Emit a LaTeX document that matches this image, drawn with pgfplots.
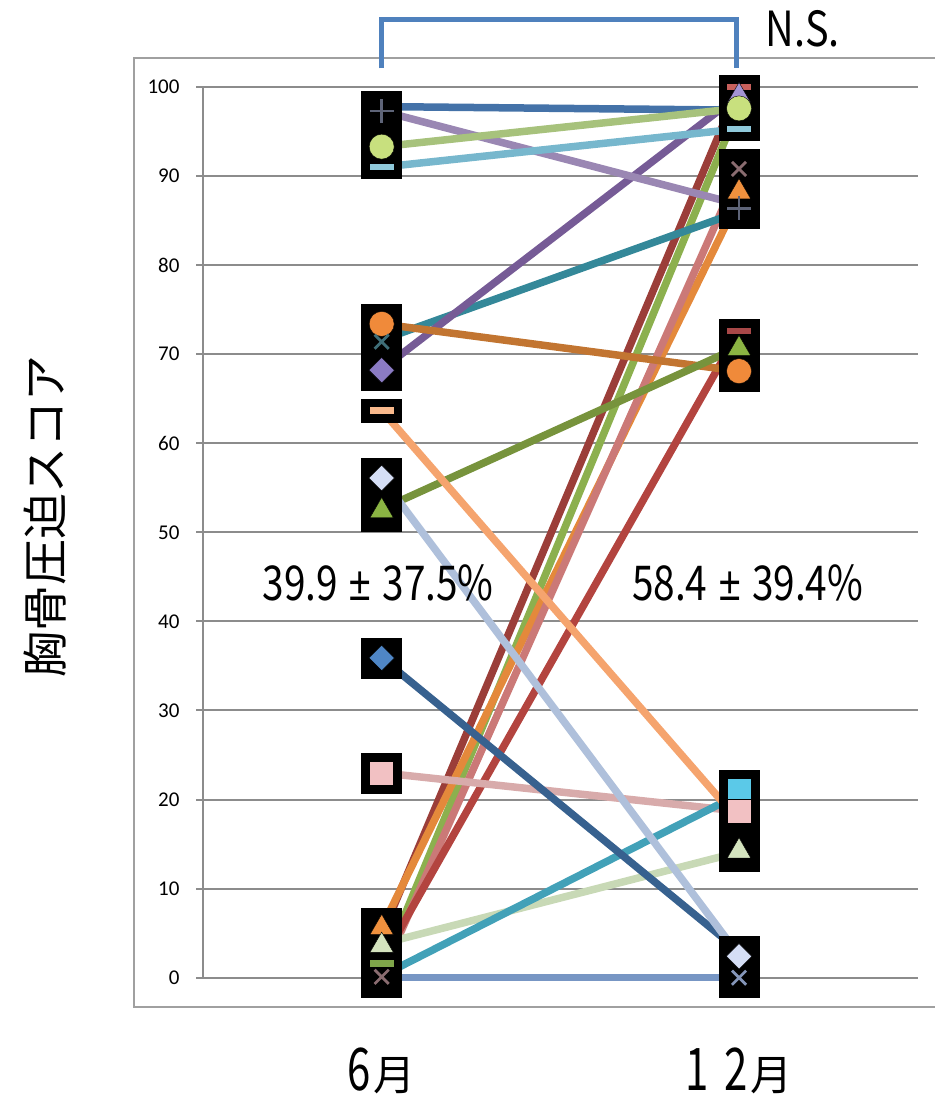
\documentclass[border=0pt]{standalone}
\usepackage{pgfplots}
\pgfplotsset{compat=1.18}
\usepackage{pgfplotstable}
\usepackage{fontspec}
\setmainfont{Carlito}
\newfontfamily\jp{Noto Sans CJK JP}
\newfontfamily\latin{Liberation Sans}

% line colours, one per patient
\definecolor{c1}{HTML}{4472A8}
\definecolor{c2}{HTML}{9A87B3}
\definecolor{c3}{HTML}{A7C27C}
\definecolor{c4}{HTML}{77B7CD}
\definecolor{c5}{HTML}{765B96}
\definecolor{c6}{HTML}{348899}
\definecolor{c7}{HTML}{C27531}
\definecolor{c8}{HTML}{77933C}
\definecolor{c9}{HTML}{F5A46E}
\definecolor{c10}{HTML}{AFC0DB}
\definecolor{c11}{HTML}{37618F}
\definecolor{c12}{HTML}{D8ABAB}
\definecolor{c13}{HTML}{42A1B8}
\definecolor{c14}{HTML}{C8D9B6}
\definecolor{c15}{HTML}{7796C4}
\definecolor{c16}{HTML}{9B3E39}
\definecolor{c17}{HTML}{8CB04E}
\definecolor{c18}{HTML}{E4893B}
\definecolor{c19}{HTML}{CB7977}
\definecolor{c20}{HTML}{B3443F}
\definecolor{c21}{HTML}{7796C4}
\definecolor{gridgray}{HTML}{8C8C8C}
\definecolor{framegray}{HTML}{A0A0A0}
\definecolor{nsblue}{HTML}{4F81BD}
% marker colours
\definecolor{mplus}{HTML}{5E6478}
\definecolor{mlime}{HTML}{C8E07E}
\definecolor{mltblue}{HTML}{8FC9DA}
\definecolor{morange}{HTML}{F08A3A}
\definecolor{mteal}{HTML}{3F6E78}
\definecolor{mpurple}{HTML}{8B7BC4}
\definecolor{mpeach}{HTML}{F9B98C}
\definecolor{mpale}{HTML}{D5DEF5}
\definecolor{molive}{HTML}{8BB443}
\definecolor{mblue}{HTML}{4F86C6}
\definecolor{mpink}{HTML}{F2C1C3}
\definecolor{mtri}{HTML}{F0913E}
\definecolor{mgreen}{HTML}{7FA54A}
\definecolor{mpgreen}{HTML}{D4E3BE}
\definecolor{mrose}{HTML}{8A6C70}
\definecolor{mred}{HTML}{C8605C}
\definecolor{mlav}{HTML}{A394D4}
\definecolor{mdred}{HTML}{A84848}
\definecolor{mcyan}{HTML}{5BC9E8}
\definecolor{mslate}{HTML}{8495B8}

% score at 6 months (row x=0) and 12 months (row x=1)
\pgfplotstableread{
x s1 s2 s3 s4 s5 s6 s7 s8 s9 s10 s11 s12 s13 s14 s15 s16 s17 s18 s19 s20 s21
0 97.8 97.3 93.3 91.0 68.3 71.6 73.4 52.6 63.7 56.1 35.9 23.0 0.2 3.8 0.0 4.8 0.8 5.6 0.3 1.8 0.0
1 97.4 86.8 97.6 95.3 99.1 86.0 68.1 70.8 17.6 2.5 3.0 18.7 20.6 14.1 0.0 100 97.8 87.5 90.5 72.6 0.0
}\scores

\pgfplotsset{
  mk/.style={only marks, forget plot},
  box/.style={mk, mark=square*, mark size=20pt, mark options={fill=black, draw=none}},
  dbox/.style={mk, mark=square*, mark size=20pt, mark options={fill=black, draw=none, yscale=0.57}},
  circ/.style={mk, mark=*, mark size=12.5pt, mark options={fill=#1, draw=none}},
  sq/.style={mk, mark=square*, mark size=12pt, mark options={fill=#1, draw=none}},
  tri/.style={mk, mark=triangle*, mark size=13.5pt, mark options={fill=#1, draw=none}},
  dia/.style={mk, mark=square*, mark size=9pt, mark options={fill=#1, draw=none, rotate=45}},
  dsh/.style={mk, mark=-, mark size=12pt, mark options={draw=#1, line width=6.5pt}},
  crs/.style={mk, mark=x, mark size=10pt, mark options={draw=#1, line width=2.8pt}},
  pls/.style={mk, mark=+, mark size=12pt, mark options={draw=#1, line width=2.8pt}},
}

\newcommand{\tall}[1]{\scalebox{1}[1.4]{#1}}
\newcommand{\plusminus}{\hspace{12pt}{\latin±}\hspace{12pt}}

\begin{document}
\begin{tikzpicture}
\useasboundingbox (0,0) rectangle (934pt,1097pt);
% chart frame (its right side runs off the page)
\draw[framegray, line width=2pt] (134pt,1039pt) rectangle (990pt,90.3pt);

\begin{axis}[
  at={(203pt,119.3pt)}, anchor=south west,
  scale only axis, width=714.7pt, height=890.7pt,
  xmin=-0.5, xmax=1.5, ymin=0, ymax=100,
  clip=false,
  axis lines*=left,
  axis line style={draw=gridgray, line width=2pt, -},
  ytick={0,10,...,100},
  ymajorgrids,
  grid style={draw=gridgray, line width=2pt},
  tick align=outside,
  major tick length=7pt,
  ytick style={draw=gridgray, line width=2pt},
  xtick={0,1},
  xtick style={draw=none},
  xticklabels={{\tall{6}\hspace{3pt}月}, {\tall{1}\hspace{16pt}\tall{2}\hspace{3pt}月}},
  xticklabel style={font=\jp\fontsize{42}{48}\selectfont, anchor=center, yshift=-86pt},
  yticklabel style={font=\fontsize{21}{25}\selectfont, anchor=east, xshift=-13pt},
  /pgf/number format/assume math mode=true,
]

% black backgrounds behind the markers
\addplot[box] coordinates {(0,97.3) (0,93.3) (0,73.4) (0,71.4) (0,68.2) (0,56.1) (0,52.4) (0,35.9) (0,23.0) (0,5.6) (0,3.6) (0,0.1)
  (1,99.0) (1,97.6) (1,90.8) (1,88.2) (1,86.4) (1,70.6) (1,68.1) (1,21.0) (1,18.7) (1,14.2) (1,2.4) (1,0)};
\addplot[dbox] coordinates {(0,91.0) (0,63.7) (0,1.6) (1,100) (1,95.3) (1,72.6) (1,17.6)};

% one line per patient
\pgfplotsinvokeforeach{15,21,16,17,18,19,20,6,5,2,1,3,4,7,8,12,14,13,11,10,9}{
  \addplot[no marks, line width=7.5pt, color=c#1, forget plot] table[x=x, y=s#1] {\scores};
}

% markers, 6 months
\addplot[pls=mplus] coordinates {(0,97.3)};
\addplot[circ=mlime] coordinates {(0,93.3)};
\addplot[dsh=mltblue] coordinates {(0,91.0)};
\addplot[circ=morange] coordinates {(0,73.4)};
\addplot[crs=mteal] coordinates {(0,71.4)};
\addplot[dia=mpurple] coordinates {(0,68.2)};
\addplot[dsh=mpeach] coordinates {(0,63.7)};
\addplot[dia=mpale] coordinates {(0,56.1)};
\addplot[tri=molive] coordinates {(0,52.4)};
\addplot[dia=mblue] coordinates {(0,35.9)};
\addplot[sq=mpink] coordinates {(0,23.0)};
\addplot[tri=mtri] coordinates {(0,5.6)};
\addplot[dsh=mgreen] coordinates {(0,1.6)};
\addplot[tri=mpgreen] coordinates {(0,3.6)};
\addplot[crs=mrose] coordinates {(0,0.1)};

% markers, 12 months
\addplot[dsh=mred] coordinates {(1,100)};
\addplot[tri=mlav] coordinates {(1,99.0)};
\addplot[circ=mlime] coordinates {(1,97.6)};
\addplot[dsh=mltblue] coordinates {(1,95.3)};
\addplot[crs=mrose] coordinates {(1,90.8)};
\addplot[tri=mtri] coordinates {(1,88.2)};
\addplot[pls=mplus] coordinates {(1,86.4)};
\addplot[dsh=mdred] coordinates {(1,72.6)};
\addplot[tri=molive] coordinates {(1,70.6)};
\addplot[circ=morange] coordinates {(1,68.1)};
\addplot[dsh=mpeach] coordinates {(1,17.6)};
\addplot[sq=mcyan] coordinates {(1,21.0)};
\addplot[sq=mpink] coordinates {(1,18.7)};
\addplot[tri=mpgreen] coordinates {(1,14.2)};
\addplot[dia=mpale] coordinates {(1,2.4)};
\addplot[crs=mslate] coordinates {(1,0)};

% mean +- SD at each time point
\node[anchor=base, font=\jp\fontsize{40}{46}\selectfont] at (axis cs:-0.01,42.4)
  {\scalebox{0.97}[1.2]{39.9\plusminus 37.5\%}};
\node[anchor=base, font=\jp\fontsize{40}{46}\selectfont] at (axis cs:1.024,42.4)
  {\scalebox{0.97}[1.2]{58.4\plusminus 39.4\%}};

% significance bracket
\draw[nsblue, line width=5pt] (axis cs:0,102.1) -- (axis cs:0,107.6) -- (axis cs:0.992,107.6) -- (axis cs:0.992,102.1);
\node[anchor=base, font=\jp\fontsize{44}{50}\selectfont] at (axis cs:1.178,104.5)
  {\scalebox{0.9}[1.1]{N.S.}};
\end{axis}

\node[rotate=90, font=\jp\fontsize{46}{52}\selectfont] at (45pt,580pt) {胸骨圧迫スコア};
\end{tikzpicture}
\end{document}
